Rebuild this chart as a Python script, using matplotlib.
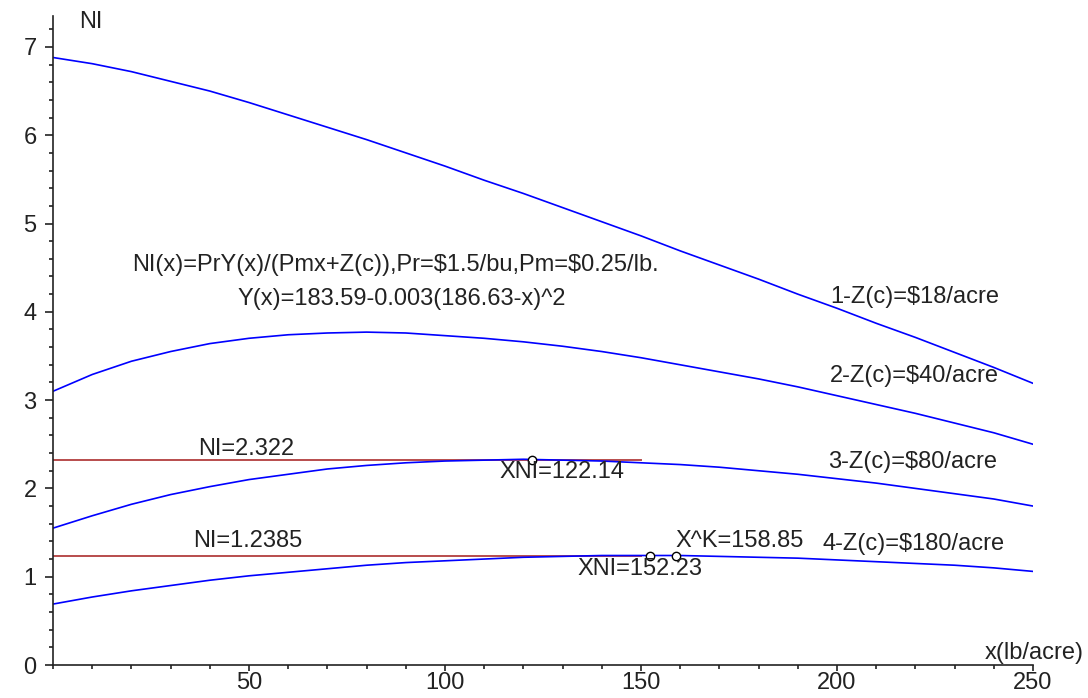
import numpy as np
import matplotlib.pyplot as plt

plt.rcParams['font.family'] = ['Liberation Sans', 'DejaVu Sans']

# values
x = [0, 10, 20, 30, 40, 50, 60, 70, 80, 90, 100, 110, 120, 130,
     140, 150, 160, 170, 180, 190, 200, 210, 220, 230, 240, 250]
ni_18 = [6.88, 6.81, 6.72, 6.61, 6.50, 6.37, 6.23, 6.09, 5.95, 5.80, 5.65, 5.49, 5.34,
         5.18, 5.02, 4.86, 4.69, 4.53, 4.37, 4.20, 4.04, 3.87, 3.71, 3.54, 3.37, 3.19]
ni_40 = [3.10, 3.29, 3.44, 3.55, 3.64, 3.70, 3.74, 3.76, 3.77, 3.76, 3.73, 3.70, 3.66,
         3.61, 3.55, 3.48, 3.40, 3.32, 3.24, 3.15, 3.05, 2.95, 2.85, 2.74, 2.63, 2.50]
ni_80 = [1.55, 1.69, 1.82, 1.93, 2.02, 2.10, 2.16, 2.22, 2.26, 2.29, 2.31, 2.32, 2.33,
         2.32, 2.31, 2.29, 2.27, 2.24, 2.20, 2.16, 2.11, 2.06, 2.00, 1.94, 1.88, 1.80]
ni_180 = [0.69, 0.77, 0.84, 0.90, 0.96, 1.01, 1.05, 1.09, 1.13, 1.16, 1.18, 1.20, 1.22,
          1.23, 1.24, 1.24, 1.24, 1.23, 1.22, 1.21, 1.19, 1.17, 1.15, 1.13, 1.10, 1.06]

ni_max = [2.322, 1.2385]
hline_end = 150
xni = [122.14, 152.23]
xk = 158.85

fig = plt.figure(figsize=(10.88, 6.98), dpi=100)
ax = fig.add_axes([53/1088, 33/698, 980/1088, 649/698])

for v in ni_max:
    ax.plot([0, hline_end], [v, v], color='#b84c4c', lw=1.4, zorder=1)
for y in [ni_18, ni_40, ni_80, ni_180]:
    ax.plot(x, y, color='#0000ff', lw=1.2, zorder=2)

ax.plot([xni[0]], [ni_max[0]], 'o', ms=6, mfc='white', mec='black', mew=1, zorder=3)
ax.plot([xni[1], xk], [ni_max[1], ni_max[1]], 'o', ms=6, mfc='white', mec='black', mew=1, zorder=3)

ax.set_xlim(0, 250)
ax.set_ylim(0, 7.35)
ax.spines['top'].set_visible(False)
ax.spines['right'].set_visible(False)
ax.spines['left'].set_color('#222222')
ax.spines['bottom'].set_color('#222222')
ax.spines['left'].set_linewidth(1.2)
ax.spines['bottom'].set_linewidth(1.2)

ax.set_xticks([50, 100, 150, 200, 250])
ax.set_xticks(np.arange(0, 251, 10), minor=True)
ax.set_yticks([0, 1, 2, 3, 4, 5, 6, 7])
ax.set_yticks(np.arange(0, 7.3, 0.2), minor=True)
ax.tick_params(which='both', width=1.2, color='#222222', labelsize=17, labelcolor='#222222')
ax.tick_params(axis='y', which='major', length=5.8, pad=6)
ax.tick_params(axis='y', which='minor', length=3)
ax.tick_params(axis='x', which='major', length=4.3, pad=1)
ax.tick_params(axis='x', which='minor', length=3)

fs = 17
tc = '#222222'
ax.text(6.6, 7.28, 'NI', fontsize=fs, color=tc, va='center')
ax.text(237.8, 0.135, 'x(lb/acre)', fontsize=fs, color=tc, va='center')
ax.text(20.2, 4.53, 'NI(x)=PrY(x)/(Pmx+Z(c)),Pr=\\$1.5/bu,Pm=\\$0.25/lb.', fontsize=fs, color=tc, va='center')
ax.text(47.0, 4.14, 'Y(x)=183.59-0.003(186.63-x)^2', fontsize=fs, color=tc, va='center')
ax.text(198.2, 4.17, '1-Z(c)=\\$18/acre', fontsize=fs, color=tc, va='center')
ax.text(198.2, 3.27, '2-Z(c)=\\$40/acre', fontsize=fs, color=tc, va='center')
ax.text(197.7, 2.30, '3-Z(c)=\\$80/acre', fontsize=fs, color=tc, va='center')
ax.text(196.4, 1.37, '4-Z(c)=\\$180/acre', fontsize=fs, color=tc, va='center')
ax.text(158.7, 1.40, 'X^K=158.85', fontsize=fs, color=tc, va='center')
ax.text(133.9, 1.09, 'XNI=152.23', fontsize=fs, color=tc, va='center')
ax.text(114.0, 2.19, 'XNI=122.14', fontsize=fs, color=tc, va='center')
ax.text(37.0, 2.45, 'NI=2.322', fontsize=fs, color=tc, va='center')
ax.text(35.7, 1.40, 'NI=1.2385', fontsize=fs, color=tc, va='center')

fig.savefig('out.png', dpi=100)
